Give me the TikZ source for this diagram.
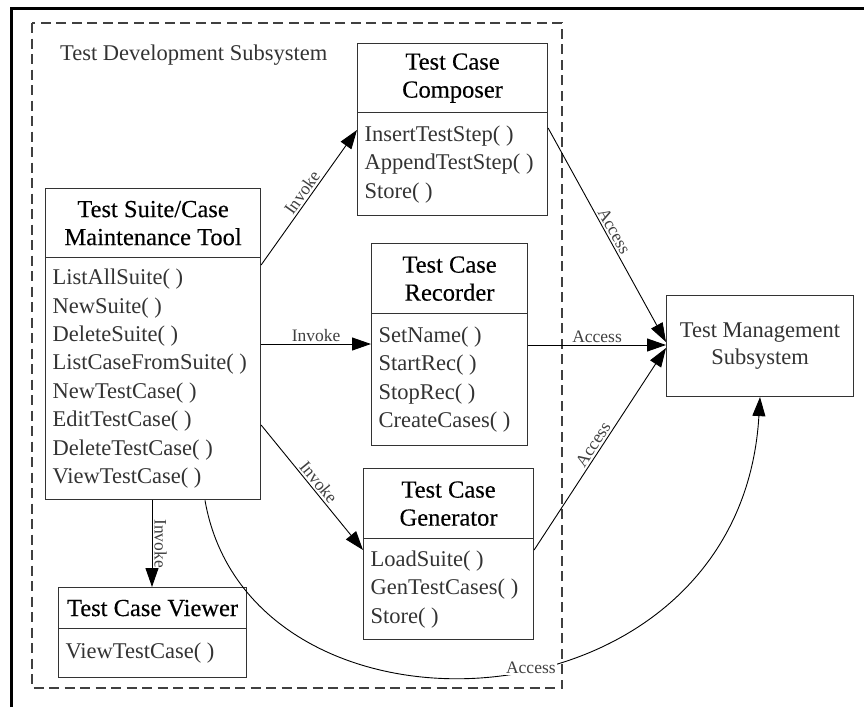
\documentclass[tikz,border=0pt]{standalone}
\usepackage{fontspec}
\setmainfont{Liberation Serif}
\newfontfamily\titlefont[FakeBold=0.3]{Liberation Serif}
\usetikzlibrary{arrows.meta,shapes.multipart}
% compartment contents of a class box: width, height, text
\newcommand\ttlsize{\titlefont\fontsize{24.5}{28}\selectfont}
\newcommand\mthsize{\fontsize{22.5}{28.4}\selectfont}
\newcommand\ttlpart[3]{\parbox[c][#2][c]{#1}{\centering\ttlsize\color{black}#3}}
\newcommand\mthpart[3]{\parbox[c][#2][c]{#1}{\mthsize\color{black!80}\raggedright\leftskip=7pt\relax #3}}
\begin{document}
\begin{tikzpicture}[x=1pt,y=-1pt,
  frameline/.style={line width=3pt, black},
  devzone/.style={draw=black!75, line width=1.1pt, dash pattern=on 10pt off 5.5pt},
  umlbox/.style={rectangle split, rectangle split parts=2, draw=black!80, line width=1.1pt,
                 inner sep=0pt, anchor=north west},
  plainbox/.style={rectangle, draw=black!80, line width=1.1pt, inner sep=0pt, anchor=north west,
                   align=center, font=\mthsize, text=black!80},
  zonetitle/.style={font=\mthsize, text=black!80, inner sep=0pt, anchor=west},
  conn/.style={draw=black, line width=0.9pt, -{Triangle[length=19pt,width=13pt]}},
  lbl/.style={font=\fontsize{17.5}{20}\selectfont, text=black!75, sloped, above, inner sep=2pt},
  curvelbl/.style={font=\fontsize{17.5}{20}\selectfont, text=black!75, fill=white, inner sep=1pt}
]
\useasboundingbox (0,0) rectangle (864,707);

% outer frame (top and left edges)
\draw[frameline] (11,707) -- (11,8) -- (864,8);

% development subsystem boundary
\draw[devzone] (32,23) rectangle (562,688);
\node[zonetitle] (devtitle) at (60,55) {Test Development Subsystem};

% class boxes
\node[umlbox] (comp) at (357,43)
  {\ttlpart{190pt}{68pt}{Test Case\\Composer}
   \nodepart{two}\mthpart{190pt}{102pt}{InsertTestStep( )\\AppendTestStep( )\\Store( )}};

\node[umlbox] (maint) at (45,188)
  {\ttlpart{215pt}{68pt}{Test Suite/Case\\Maintenance Tool}
   \nodepart{two}\mthpart{215pt}{241pt}{ListAllSuite( )\\NewSuite( )\\DeleteSuite( )\\
     ListCaseFromSuite( )\\NewTestCase( )\\EditTestCase( )\\DeleteTestCase( )\\ViewTestCase( )}};

\node[umlbox] (rec) at (371,243)
  {\ttlpart{156pt}{69pt}{Test Case\\Recorder}
   \nodepart{two}\mthpart{156pt}{131pt}{SetName( )\\StartRec( )\\StopRec( )\\CreateCases( )}};

\node[umlbox] (gen) at (363,468)
  {\ttlpart{170pt}{69pt}{Test Case\\Generator}
   \nodepart{two}\mthpart{170pt}{100pt}{LoadSuite( )\\GenTestCases( )\\Store( )}};

\node[umlbox] (view) at (58,587)
  {\ttlpart{188pt}{40pt}{Test Case Viewer}
   \nodepart{two}\mthpart{188pt}{48pt}{ViewTestCase( )}};

\node[plainbox, minimum width=187pt, minimum height=101pt] (tms) at (666,295)
  {Test Management\\[-1pt]Subsystem};

% invocations
\draw[conn] (maint.east |- 0,265) -- node[lbl] {Invoke} (comp.west |- 0,130);
\draw[conn] (maint.east |- 0,344) -- node[lbl] {Invoke} (rec.west |- 0,344);
\draw[conn] (maint.east |- 0,425) -- node[lbl] {Invoke} (gen.west |- 0,550);
\draw[conn] (maint.south -| 152,0) -- node[lbl] {Invoke} (view.north -| 152,0);

% accesses to the management subsystem
\draw[conn] (comp.east |- 0,128) -- node[lbl] {Access} (tms.west |- 0,342);
\draw[conn] (rec.east |- 0,345) -- node[lbl] {Access} (tms.west |- 0,345);
\draw[conn] (gen.east |- 0,550) -- node[lbl] {Access} (tms.west |- 0,348);
\draw[conn] (maint.south -| 205,0) .. controls (250,760) and (740,740) ..
  node[curvelbl, pos=0.55] {Access} (tms.south -| 760,0);
\end{tikzpicture}
\end{document}
